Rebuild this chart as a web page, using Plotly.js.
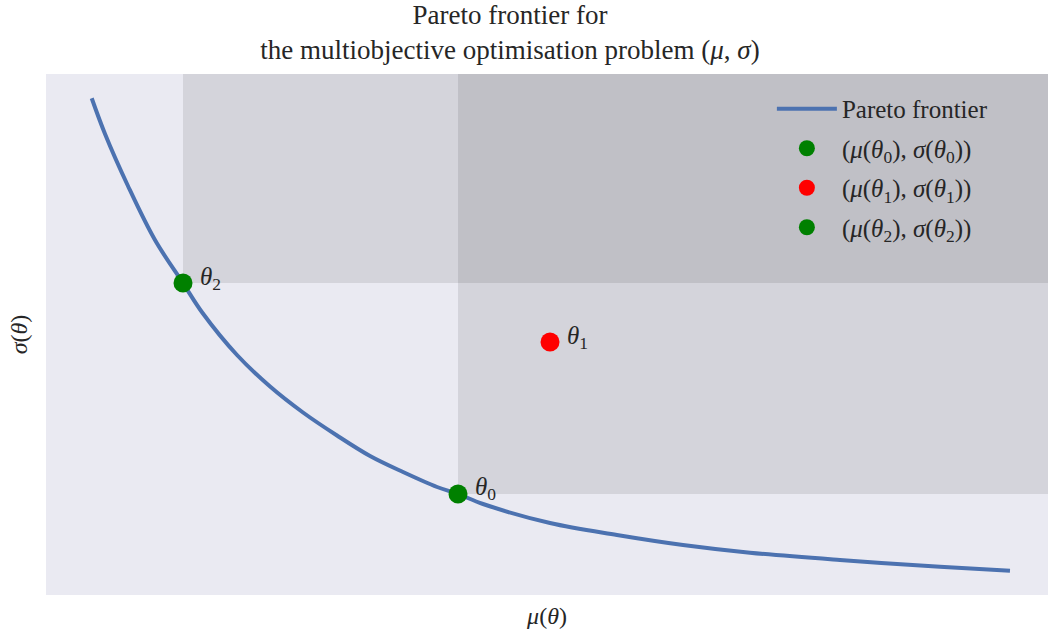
<!DOCTYPE html>
<html>
<head>
<meta charset="utf-8">
<script src="https://cdn.plot.ly/plotly-3.0.1.min.js"></script>
<style>html,body{margin:0;padding:0;background:#fff;}#chart{width:1048px;height:637px;}</style>
</head>
<body>
<div id="chart"></div>
<script>
// Pareto frontier (arbitrary units)
const frontierMu =    [0.000, 0.145, 0.395, 0.689, 0.994, 1.203, 1.582, 1.942, 2.301, 2.671, 3.031, 3.390, 3.761, 3.989, 4.261, 4.991, 5.720, 6.439, 7.168, 8.148, 9.237, 10.000];
const frontierSigma = [10.000, 9.244, 8.143, 6.999, 6.089, 5.466, 4.566, 3.899, 3.349, 2.862, 2.428, 2.089, 1.772, 1.624, 1.412, 1.010, 0.756, 0.544, 0.381, 0.227, 0.085, 0.000];
const pointNames = ["θ0", "θ1", "θ2"];
const pointMu =    [3.989, 4.991, 0.994];
const pointSigma = [1.624, 4.841, 6.089];
const pointColors = ["#008000", "#ff0000", "#008000"];
const subs = ["0", "1", "2"];

const serif = "Liberation Serif, Times New Roman, serif";
const txt = "#262626";

const traces = [{
  x: frontierMu, y: frontierSigma, type: "scatter", mode: "lines",
  line: {color: "#4c72b0", width: 4, shape: "spline", smoothing: 1},
  name: "Pareto frontier", legendgroup: "f"
}];
for (let i = 0; i < pointMu.length; i++) {
  traces.push({
    x: [pointMu[i]], y: [pointSigma[i]], type: "scatter", mode: "markers",
    marker: {color: pointColors[i], size: 19},
    name: "(<i>μ</i>(<i>θ</i><sub>" + subs[i] + "</sub>), <i>σ</i>(<i>θ</i><sub>" + subs[i] + "</sub>))",
    legendgroup: "p" + i
  });
}

const shapes = [
  {type: "rect", xref: "x", yref: "y", x0: pointMu[2], x1: 20, y0: pointSigma[2], y1: 20,
   fillcolor: "rgba(0,0,0,0.095)", line: {width: 0}, layer: "below"},
  {type: "rect", xref: "x", yref: "y", x0: pointMu[0], x1: 20, y0: pointSigma[0], y1: 20,
   fillcolor: "rgba(0,0,0,0.095)", line: {width: 0}, layer: "below"}
];

const annotations = pointMu.map((m, i) => ({
  x: m, y: pointSigma[i], xref: "x", yref: "y",
  text: "<i>θ</i><sub>" + subs[i] + "</sub>", showarrow: false,
  xanchor: "left", yanchor: "middle", xshift: 15, yshift: 5,
  font: {family: serif, size: 25, color: txt}
}));

const layout = {
  width: 1048, height: 637,
  margin: {l: 46, r: 0, t: 74, b: 42},
  paper_bgcolor: "#ffffff", plot_bgcolor: "#eaeaf2",
  title: {
    text: "Pareto frontier for<br>the multiobjective optimisation problem (<i>μ</i>, <i>σ</i>)",
    font: {family: serif, size: 27, color: txt},
    x: 510 / 1048, xref: "container", xanchor: "center",
    y: 0.962, yref: "container", yanchor: "top"
  },
  xaxis: {
    range: [-0.498, 10.414], showgrid: false, zeroline: false, showticklabels: false, ticks: "",
    title: {text: "<i>μ</i>(<i>θ</i>)", font: {family: serif, size: 24, color: txt}, standoff: 12}
  },
  yaxis: {
    range: [-0.514, 10.514], showgrid: false, zeroline: false, showticklabels: false, ticks: "",
    title: {text: "<i>σ</i>(<i>θ</i>)", font: {family: serif, size: 24, color: txt}, standoff: 10}
  },
  showlegend: true,
  legend: {
    x: 0.945, y: 0.977, xanchor: "right", yanchor: "top",
    bgcolor: "rgba(0,0,0,0)", borderwidth: 0,
    font: {family: serif, size: 25, color: txt},
    tracegroupgap: 4, itemwidth: 60
  },
  shapes: shapes,
  annotations: annotations
};

Plotly.newPlot("chart", traces, layout, {displayModeBar: false, staticPlot: true});
</script>
</body>
</html>
